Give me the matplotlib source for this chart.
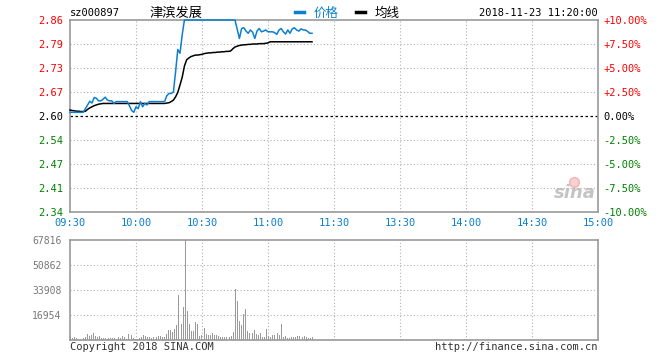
import matplotlib
matplotlib.use("Agg")
import matplotlib.pyplot as plt
import numpy as np

# ---------------- data ----------------
prev_close = 2.60
price_tick_labels = ['2.86', '2.79', '2.73', '2.67', '2.60', '2.54', '2.47', '2.41', '2.34']
pct_tick_labels = ['+10.00%', '+7.50%', '+5.00%', '+2.50%', '0.00%', '-2.50%', '-5.00%', '-7.50%', '-10.00%']
time_labels = ['09:30', '10:00', '10:30', '11:00', '11:30', '13:30', '14:00', '14:30', '15:00']
vol_tick_values = [16954, 33908, 50862, 67816]

# minute-by-minute price (09:30 .. 11:20)
price = [2.61, 2.61, 2.61, 2.61, 2.61, 2.61, 2.61, 2.62, 2.63, 2.64,
         2.635, 2.65, 2.648, 2.641, 2.641, 2.645, 2.651, 2.643, 2.641, 2.641,
         2.634, 2.639, 2.639, 2.639, 2.639, 2.639, 2.639, 2.628, 2.615, 2.61,
         2.625, 2.62, 2.639, 2.625, 2.634, 2.63, 2.639, 2.639, 2.639, 2.639,
         2.639, 2.639, 2.639, 2.639, 2.655, 2.661, 2.661, 2.665, 2.72, 2.78,
         2.77, 2.82, 2.86, 2.86, 2.86, 2.86, 2.86, 2.86, 2.86, 2.86,
         2.86, 2.86, 2.86, 2.86, 2.86, 2.86, 2.86, 2.86, 2.86, 2.86,
         2.86, 2.86, 2.86, 2.86, 2.86, 2.86, 2.835, 2.81, 2.837, 2.839,
         2.83, 2.824, 2.833, 2.827, 2.81, 2.83, 2.837, 2.828, 2.83, 2.833,
         2.828, 2.828, 2.828, 2.826, 2.821, 2.833, 2.837, 2.828, 2.822, 2.833,
         2.824, 2.836, 2.839, 2.833, 2.83, 2.836, 2.833, 2.833, 2.829, 2.824,
         2.824]

avg_price = [2.616, 2.615, 2.614, 2.613, 2.613, 2.612, 2.612, 2.613, 2.618, 2.622,
             2.625, 2.628, 2.630, 2.632, 2.633, 2.634, 2.634, 2.634, 2.634, 2.634,
             2.634, 2.634, 2.634, 2.634, 2.634, 2.634, 2.634, 2.634, 2.634, 2.634,
             2.634, 2.634, 2.634, 2.634, 2.634, 2.634, 2.634, 2.634, 2.634, 2.634,
             2.634, 2.634, 2.634, 2.634, 2.635, 2.636, 2.639, 2.643, 2.652, 2.664,
             2.684, 2.705, 2.735, 2.752, 2.757, 2.761, 2.763, 2.765, 2.765, 2.766,
             2.767, 2.769, 2.770, 2.771, 2.771, 2.772, 2.772, 2.773, 2.773, 2.774,
             2.774, 2.775, 2.775, 2.776, 2.782, 2.787, 2.789, 2.791, 2.792, 2.793,
             2.793, 2.794, 2.794, 2.795, 2.795, 2.795, 2.796, 2.796, 2.796, 2.797,
             2.798, 2.801, 2.801, 2.801, 2.801, 2.801, 2.801, 2.801, 2.801, 2.801,
             2.801, 2.801, 2.801, 2.801, 2.801, 2.801, 2.801, 2.801, 2.801, 2.801,
             2.801]

volume = [2713, 1130, 1808, 1582, 904, 678, 1582, 1808, 4069, 2713,
          3617, 4747, 2713, 2260, 2713, 1582, 1582, 1130, 1582, 1130,
          1582, 1582, 904, 1808, 1130, 2713, 1808, 678, 3843, 3165,
          1582, 904, 678, 1582, 2260, 3165, 2713, 1808, 2260, 1582,
          1808, 2260, 2713, 2713, 1808, 2260, 4069, 6782, 6782, 5425,
          7686, 10172, 30517, 10850, 22379, 67816, 19666, 10850, 6329, 6329,
          12207, 10850, 2713, 3617, 8138, 4069, 3617, 3165, 4973, 3617,
          3165, 2713, 1808, 2260, 2260, 1808, 1808, 2713, 5651, 34360,
          26448, 13111, 10398, 17406, 21022, 6329, 4973, 4521, 6782, 4069,
          3165, 4973, 2260, 2260, 7686, 2713, 1808, 3165, 3165, 4521,
          3165, 10850, 2260, 2713, 1356, 1582, 1808, 2260, 2260, 2713,
          2713, 2260, 2713, 1808, 1356, 1356, 1808]

# ---------------- styling ----------------
MONO = 'DejaVu Sans Mono'
CJK = ['Noto Sans CJK SC', 'DejaVu Sans']
RED = '#ff0000'
GREEN = '#008000'
BLUE = '#0b7fd0'
GRAY = '#999999'
GRID = '#b0b0b0'

fig = plt.figure(figsize=(6.6, 3.6), dpi=100)
fig.patch.set_facecolor('white')

ax = fig.add_axes([70/660, 1-212/360, 528/660, 192/360])
axv = fig.add_axes([70/660, 20/360, 528/660, 100/360])

pct_levels = np.array([0.10, 0.075, 0.05, 0.025, 0.0, -0.025, -0.05, -0.075, -0.10])
price_levels = prev_close * (1 + pct_levels)
ymax, ymin = price_levels[0], price_levels[-1]

t_price = np.arange(len(price))
ax.plot(t_price, avg_price, color='black', lw=1.1, zorder=3, clip_on=False)
ax.plot(t_price, price, color=BLUE, lw=1.1, zorder=4, clip_on=False)

ax.set_xlim(0, 240)
ax.set_ylim(ymin, ymax)

# grid
for lvl in price_levels[1:-1]:
    if abs(lvl - prev_close) < 1e-9:
        ax.axhline(lvl, color='black', lw=0.9, ls=(0, (2, 2)), zorder=1)
    else:
        ax.axhline(lvl, color=GRID, lw=0.8, ls=(0, (1, 2)), zorder=1)
for xt in range(30, 240, 30):
    ax.axvline(xt, color=GRID, lw=0.8, ls=(0, (1, 2)), zorder=1)

for s in ax.spines.values():
    s.set_color(GRAY)
    s.set_linewidth(1.2)

ax.set_yticks(price_levels)
ax.set_yticklabels(price_tick_labels, fontfamily=MONO, fontsize=7.5)
ax.tick_params(axis='y', length=0, pad=5)
for lbl, p in zip(ax.get_yticklabels(), pct_levels):
    lbl.set_color(RED if p > 0 else ('black' if p == 0 else GREEN))

ax.set_xticks(range(0, 241, 30))
ax.set_xticklabels(time_labels, fontfamily=MONO, fontsize=7.5, color=BLUE)
ax.tick_params(axis='x', length=0, pad=4)

axr = ax.twinx()
axr.set_ylim(ymin, ymax)
axr.set_yticks(price_levels)
axr.set_yticklabels(pct_tick_labels, fontfamily=MONO, fontsize=7.5)
axr.tick_params(axis='y', length=0, pad=4)
for lbl, p in zip(axr.get_yticklabels(), pct_levels):
    lbl.set_color(RED if p > 0 else ('black' if p == 0 else GREEN))
for s in axr.spines.values():
    s.set_visible(False)

# watermark
ax.text(0.995, 0.05, 'sina', transform=ax.transAxes, ha='right', va='bottom',
        fontsize=13, fontweight='bold', fontstyle='italic', color='#c4c4c4', zorder=0)
ax.plot([0.955], [0.155], 'o', transform=ax.transAxes, ms=7, mfc='#f8d0d0', mec='#f0b4b4', zorder=0)

# header texts
fig.text(70/660, 1-13/360, 'sz000897', fontfamily=MONO, fontsize=7.5, color='black', va='center', ha='left')
fig.text(150/660, 1-13/360, '津滨发展', fontfamily=CJK, fontsize=9.5, color='black', va='center', ha='left')
fig.lines.append(plt.Line2D([295/660, 304/660], [1-12/360, 1-12/360], color=BLUE, lw=2.5, transform=fig.transFigure))
fig.text(314/660, 1-13/360, '价格', fontfamily=CJK, fontsize=9, color=BLUE, va='center', ha='left')
fig.lines.append(plt.Line2D([356/660, 365/660], [1-12/360, 1-12/360], color='black', lw=2.5, transform=fig.transFigure))
fig.text(375/660, 1-13/360, '均线', fontfamily=CJK, fontsize=9, color='black', va='center', ha='left')
fig.text(598/660, 1-13/360, '2018-11-23 11:20:00', fontfamily=MONO, fontsize=7.5, color='black', va='center', ha='right')

# ---------------- volume ----------------
t_vol = np.arange(len(volume)) * (len(price) - 1) / (len(volume) - 1)
axv.vlines(t_vol, 0, volume, colors=GRAY, linewidth=0.7, antialiased=False, zorder=3)
axv.set_xlim(0, 240)
axv.set_ylim(0, vol_tick_values[-1])
for v in vol_tick_values[:-1]:
    axv.axhline(v, color=GRID, lw=0.8, ls=(0, (1, 2)), zorder=1)
for xt in range(30, 240, 30):
    axv.axvline(xt, color=GRID, lw=0.8, ls=(0, (1, 2)), zorder=1)
for s in axv.spines.values():
    s.set_color(GRAY)
    s.set_linewidth(1.2)
axv.set_xticks([])
axv.set_yticks(vol_tick_values)
axv.set_yticklabels([str(v) for v in vol_tick_values], fontfamily=MONO, fontsize=7, color='#777777')
axv.tick_params(axis='y', length=0, pad=6)

fig.text(70/660, 1-347/360, 'Copyright 2018 SINA.COM', fontfamily=MONO, fontsize=7.5, color='#333333', va='center', ha='left')
fig.text(598/660, 1-347/360, 'http://finance.sina.com.cn', fontfamily=MONO, fontsize=7.5, color='#333333', va='center', ha='right')

fig.savefig('out.png', dpi=100, facecolor='white')
